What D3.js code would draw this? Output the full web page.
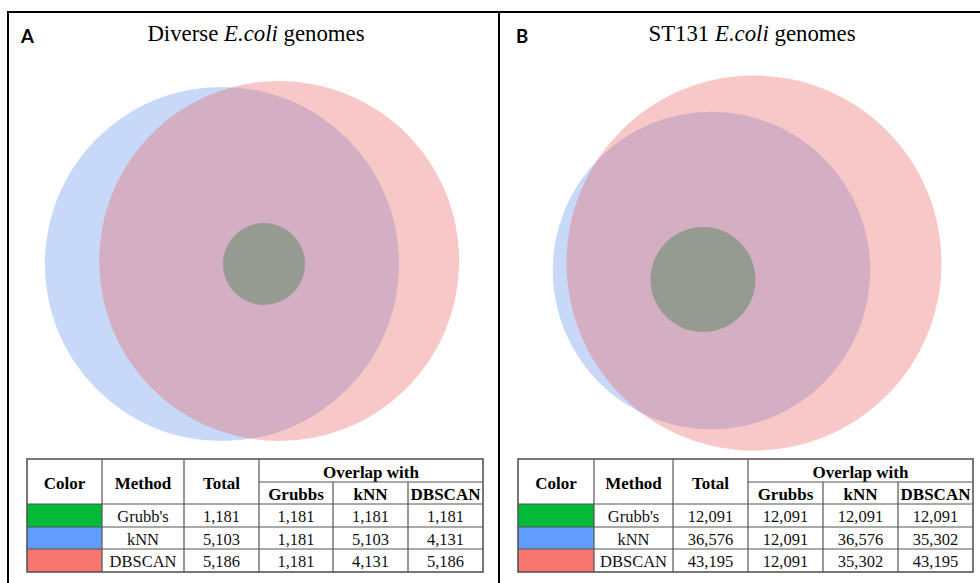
<!DOCTYPE html>
<html>
<head>
<meta charset="utf-8">
<script src="https://cdn.jsdelivr.net/npm/d3@7"></script>
<style>
  html, body { margin: 0; padding: 0; background: #fff; }
  svg { display: block; }
</style>
</head>
<body>
<svg id="chart" width="980" height="583"></svg>
<script>
// ---- data -------------------------------------------------------------
const methods = ["Grubb's", "kNN", "DBSCAN"];
const overlapHeaders = ["Grubbs", "kNN", "DBSCAN"];
const mainHeaders = ["Color", "Method", "Total"];

const totalsA = [1181, 5103, 5186];
const overlapA = [
  [1181, 1181, 1181],
  [1181, 5103, 4131],
  [1181, 4131, 5186]
];

const totalsB = [12091, 36576, 43195];
const overlapB = [
  [12091, 12091, 12091],
  [12091, 36576, 35302],
  [12091, 35302, 43195]
];

// ---- styles -----------------------------------------------------------
const swatchColors = ["#00BA38", "#619CFF", "#F8766D"];
const vennFill = ["#6d8d71", "#6290eb", "#eb6262"];
const vennOpacity = [0.6, 0.35, 0.35];
const fmt = d3.format(",");

// ---- panel layout -----------------------------------------------------
const panels = [
  {
    letter: "A", letterX: 21, titleX: 256,
    title: [["Diverse ", false], ["E.coli", true], [" genomes", false]],
    totals: totalsA, overlap: overlapA,
    rMax: 180, kNNCenter: [222, 264], axisAngle: -3, grubbsOffset: [42, 0],
    colEdges: [27, 102, 184, 259, 333, 408, 483]
  },
  {
    letter: "B", letterX: 516, titleX: 752,
    title: [["ST131 ", false], ["E.coli", true], [" genomes", false]],
    totals: totalsB, overlap: overlapB,
    rMax: 187.5, kNNCenter: [711.5, 270.5], axisAngle: -10, grubbsOffset: [-8.5, 9],
    colEdges: [518, 594, 673, 748, 823, 898, 973]
  }
];
const rowEdges = [459, 482, 504, 527, 549, 572];

const svg = d3.select("#chart");

// frame lines
const frame = svg.append("g").attr("stroke", "#000").attr("stroke-width", 2);
frame.append("line").attr("x1", 8).attr("x2", 980).attr("y1", 12).attr("y2", 12);
frame.append("line").attr("x1", 8).attr("x2", 8).attr("y1", 11).attr("y2", 583);
frame.append("line").attr("x1", 499).attr("x2", 499).attr("y1", 11).attr("y2", 583);

// area of the lens shared by two circles at distance d
function lensArea(r1, r2, d) {
  if (d >= r1 + r2) return 0;
  if (d <= Math.abs(r1 - r2)) return Math.PI * Math.min(r1, r2) ** 2;
  const a1 = Math.acos((d * d + r1 * r1 - r2 * r2) / (2 * d * r1));
  const a2 = Math.acos((d * d + r2 * r2 - r1 * r1) / (2 * d * r2));
  const k = Math.sqrt((-d + r1 + r2) * (d + r1 - r2) * (d - r1 + r2) * (d + r1 + r2));
  return r1 * r1 * a1 + r2 * r2 * a2 - 0.5 * k;
}

// centre distance giving the wanted share of the smaller circle
function solveDistance(r1, r2, share) {
  const target = share * Math.PI * Math.min(r1, r2) ** 2;
  let lo = Math.abs(r1 - r2), hi = r1 + r2;
  for (let i = 0; i < 60; i++) {
    const mid = (lo + hi) / 2;
    if (lensArea(r1, r2, mid) > target) lo = mid; else hi = mid;
  }
  return (lo + hi) / 2;
}

panels.forEach(p => {
  const g = svg.append("g");

  // panel letter
  g.append("text")
    .attr("x", p.letterX).attr("y", 43)
    .attr("font-family", "Lato, 'Open Sans', 'Liberation Sans', sans-serif")
    .attr("font-weight", "bold").attr("font-size", 18.5)
    .attr("fill", "#000")
    .text(p.letter);

  // title
  const t = g.append("text")
    .attr("x", p.titleX).attr("y", 41)
    .attr("text-anchor", "middle")
    .attr("font-family", "'Liberation Serif', 'DejaVu Serif', serif")
    .attr("font-size", 22.8).attr("fill", "#000");
  p.title.forEach(([s, it]) => {
    t.append("tspan").attr("font-style", it ? "italic" : "normal").text(s);
  });

  // Venn circles: radius proportional to each method's total
  const r = d3.scaleLinear().domain([0, d3.max(p.totals)]).range([0, p.rMax]);
  const rad = p.totals.map(v => r(v));
  const share = p.overlap[1][2] / p.totals[1];
  const dist = solveDistance(rad[1], rad[2], share);
  const ang = p.axisAngle * Math.PI / 180;
  const centers = [
    [p.kNNCenter[0] + p.grubbsOffset[0], p.kNNCenter[1] + p.grubbsOffset[1]],
    p.kNNCenter,
    [p.kNNCenter[0] + dist * Math.cos(ang), p.kNNCenter[1] + dist * Math.sin(ang)]
  ];
  const order = [1, 2, 0]; // kNN, DBSCAN, Grubbs on top
  g.append("g").selectAll("circle")
    .data(order)
    .join("circle")
    .attr("cx", i => centers[i][0])
    .attr("cy", i => centers[i][1])
    .attr("r", i => rad[i])
    .attr("fill", i => vennFill[i])
    .attr("fill-opacity", i => vennOpacity[i]);

  // table
  const ce = p.colEdges;
  const tg = g.append("g");
  const serif = "'Liberation Serif', 'DejaVu Serif', serif";
  const base = (y0, y1, fs) => (y0 + y1) / 2 + 0.36 * fs + 1;

  tg.append("rect")
    .attr("x", ce[0]).attr("y", rowEdges[0])
    .attr("width", ce[6] - ce[0]).attr("height", rowEdges[5] - rowEdges[0])
    .attr("fill", "#fff");

  // swatches
  tg.selectAll("rect.sw")
    .data(methods)
    .join("rect").attr("class", "sw")
    .attr("x", ce[0]).attr("y", (d, i) => rowEdges[i + 2])
    .attr("width", ce[1] - ce[0])
    .attr("height", (d, i) => rowEdges[i + 3] - rowEdges[i + 2])
    .attr("fill", (d, i) => swatchColors[i]);

  // header texts
  const hfs = 17;
  mainHeaders.forEach((h, j) => {
    tg.append("text")
      .attr("x", (ce[j] + ce[j + 1]) / 2)
      .attr("y", base(rowEdges[0], rowEdges[2], hfs))
      .attr("text-anchor", "middle")
      .attr("font-family", serif).attr("font-weight", "bold").attr("font-size", hfs)
      .text(h);
  });
  tg.append("text")
    .attr("x", (ce[3] + ce[6]) / 2)
    .attr("y", base(rowEdges[0], rowEdges[1], hfs))
    .attr("text-anchor", "middle")
    .attr("font-family", serif).attr("font-weight", "bold").attr("font-size", hfs)
    .text("Overlap with");
  overlapHeaders.forEach((h, j) => {
    tg.append("text")
      .attr("x", (ce[j + 3] + ce[j + 4]) / 2)
      .attr("y", base(rowEdges[1], rowEdges[2], hfs))
      .attr("text-anchor", "middle")
      .attr("font-family", serif).attr("font-weight", "bold").attr("font-size", hfs)
      .text(h);
  });

  // body rows
  const bfs = 16.5;
  methods.forEach((m, i) => {
    const cells = [m, fmt(p.totals[i]), ...p.overlap[i].map(fmt)];
    cells.forEach((c, j) => {
      tg.append("text")
        .attr("x", (ce[j + 1] + ce[j + 2]) / 2)
        .attr("y", base(rowEdges[i + 2], rowEdges[i + 3], bfs))
        .attr("text-anchor", "middle")
        .attr("font-family", serif).attr("font-size", bfs)
        .attr("fill", "#111")
        .text(c);
    });
  });

  // grid lines
  const grid = tg.append("g").attr("stroke", "#555").attr("stroke-width", 1.2).attr("fill", "none");
  grid.append("line").attr("x1", ce[3]).attr("x2", ce[6]).attr("y1", rowEdges[1]).attr("y2", rowEdges[1]);
  [2, 3, 4].forEach(k => {
    grid.append("line").attr("x1", ce[0]).attr("x2", ce[6]).attr("y1", rowEdges[k]).attr("y2", rowEdges[k]);
  });
  [1, 2, 3].forEach(k => {
    grid.append("line").attr("x1", ce[k]).attr("x2", ce[k]).attr("y1", rowEdges[0]).attr("y2", rowEdges[5]);
  });
  [4, 5].forEach(k => {
    grid.append("line").attr("x1", ce[k]).attr("x2", ce[k]).attr("y1", rowEdges[1]).attr("y2", rowEdges[5]);
  });
  grid.append("rect")
    .attr("x", ce[0]).attr("y", rowEdges[0])
    .attr("width", ce[6] - ce[0]).attr("height", rowEdges[5] - rowEdges[0])
    .attr("stroke-width", 1.6);
});
</script>
</body>
</html>
